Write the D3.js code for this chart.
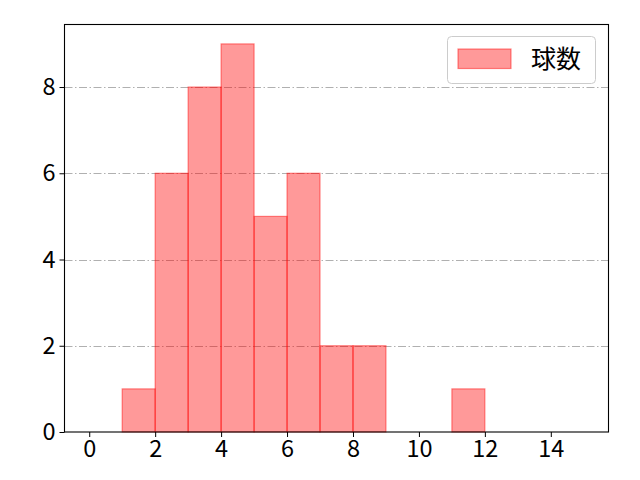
<!DOCTYPE html>
<html>
<head>
<meta charset="utf-8">
<script src="https://cdn.jsdelivr.net/npm/d3@7/dist/d3.min.js"></script>
<style>
html,body{margin:0;padding:0;background:#fff;}
svg{display:block;}
text{font-family:"Noto Sans CJK JP","Noto Sans",sans-serif;}
</style>
</head>
<body>
<svg id="chart" width="640" height="480"></svg>
<script>
const binEdges = [0,1,2,3,4,5,6,7,8,9,10,11,12,13,14,15];
const counts = [0,1,6,8,9,5,6,2,2,0,0,1,0,0,0];
const xTicks = [0,2,4,6,8,10,12,14];
const yTicks = [0,2,4,6,8];
const seriesName = "球数";

const svg = d3.select("#chart");
const L = 64.5, R = 608.5, T = 24.5, B = 432;
const x = d3.scaleLinear().domain([-0.75, 15.75]).range([L, R]);
const y = d3.scaleLinear().domain([0, 9.45]).range([B, T]);

// grid
svg.append("g").selectAll("line").data(yTicks.filter(d => d > 0)).join("line")
  .attr("x1", L).attr("x2", R)
  .attr("y1", d => Math.round(y(d)) + 0.5).attr("y2", d => Math.round(y(d)) + 0.5)
  .attr("stroke", "#b0b0b0").attr("stroke-width", 1)
  .attr("stroke-dasharray", "8,2.5,1.5,2.5");

// bars
const bins = counts.map((c, i) => ({x0: binEdges[i], x1: binEdges[i + 1], c}));
svg.append("g").selectAll("rect").data(bins).join("rect")
  .attr("x", d => x(d.x0)).attr("width", d => x(d.x1) - x(d.x0))
  .attr("y", d => y(d.c)).attr("height", d => y(0) - y(d.c))
  .attr("fill", "rgba(255,0,0,0.4)")
  .attr("stroke", "rgba(255,0,0,0.45)").attr("stroke-width", 1.2);

// axes frame
svg.append("rect").attr("x", L).attr("y", T).attr("width", R - L).attr("height", B - T)
  .attr("fill", "none").attr("stroke", "#000").attr("stroke-width", 1.1);

const xAxis = d3.axisBottom(x).tickValues(xTicks).tickSize(5).tickPadding(3).tickFormat(d3.format("d"));
const gx = svg.append("g").attr("transform", `translate(0,${B})`).call(xAxis);
gx.select(".domain").remove();
gx.selectAll("text").attr("font-size", "23.5px").attr("fill", "#000")
  .attr("font-family", '"Noto Sans CJK JP","Noto Sans",sans-serif');

const yAxis = d3.axisLeft(y).tickValues(yTicks).tickSize(5).tickPadding(4).tickFormat(d3.format("d"));
const gy = svg.append("g").attr("transform", `translate(${L},0)`).call(yAxis);
gy.select(".domain").remove();
gy.selectAll("text").attr("font-size", "23.5px").attr("fill", "#000")
  .attr("font-family", '"Noto Sans CJK JP","Noto Sans",sans-serif');

// legend
const lg = svg.append("g");
lg.append("rect").attr("x", 447.5).attr("y", 36.5).attr("width", 148).attr("height", 47)
  .attr("rx", 4).attr("fill", "rgba(255,255,255,0.8)").attr("stroke", "#cccccc");
lg.append("rect").attr("x", 458).attr("y", 49).attr("width", 53).attr("height", 19.5)
  .attr("fill", "rgba(255,0,0,0.4)").attr("stroke", "rgba(255,0,0,0.45)").attr("stroke-width", 1.2);
lg.append("text").attr("x", 531).attr("y", 68).attr("font-size", "25px").attr("fill", "#000")
  .text(seriesName);
</script>
</body>
</html>
